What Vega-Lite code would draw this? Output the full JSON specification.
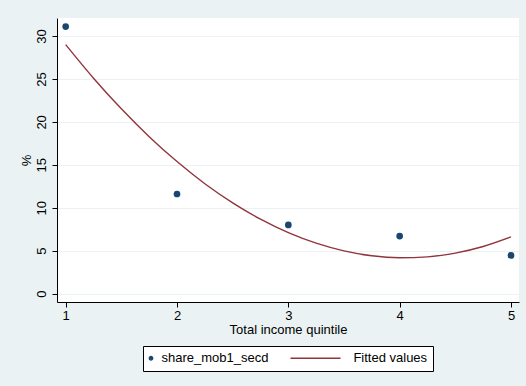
{
  "$schema": "https://vega.github.io/schema/vega-lite/v6.json",
  "autosize": {"type": "none"},
  "width": 462,
  "height": 284,
  "padding": {"left": 57, "top": 18, "right": 7, "bottom": 84},
  "background": "#EAF2F3",
  "config": {
    "font": "Liberation Sans",
    "view": {"fill": "white", "stroke": null},
    "axis": {
      "labelFont": "Liberation Sans",
      "titleFont": "Liberation Sans",
      "labelFontSize": 13,
      "titleFontSize": 13,
      "titleFontWeight": "normal",
      "labelColor": "black",
      "titleColor": "black",
      "domainColor": "black",
      "tickColor": "black",
      "tickSize": 5,
      "domainWidth": 1,
      "tickWidth": 1
    }
  },
  "data": {
    "values": [
      {"quintile": 1, "value": 31.1, "series": "share_mob1_secd"},
      {"quintile": 2, "value": 11.6, "series": "share_mob1_secd"},
      {"quintile": 3, "value": 8.0, "series": "share_mob1_secd"},
      {"quintile": 4, "value": 6.7, "series": "share_mob1_secd"},
      {"quintile": 5, "value": 4.45, "series": "share_mob1_secd"},
      {"quintile": 1.0, "value": 29.0, "series": "Fitted values"},
      {"quintile": 1.25, "value": 25.09, "series": "Fitted values"},
      {"quintile": 1.5, "value": 21.52, "series": "Fitted values"},
      {"quintile": 1.75, "value": 18.28, "series": "Fitted values"},
      {"quintile": 2.0, "value": 15.38, "series": "Fitted values"},
      {"quintile": 2.25, "value": 12.8, "series": "Fitted values"},
      {"quintile": 2.5, "value": 10.57, "series": "Fitted values"},
      {"quintile": 2.75, "value": 8.67, "series": "Fitted values"},
      {"quintile": 3.0, "value": 7.1, "series": "Fitted values"},
      {"quintile": 3.25, "value": 5.87, "series": "Fitted values"},
      {"quintile": 3.5, "value": 4.97, "series": "Fitted values"},
      {"quintile": 3.75, "value": 4.4, "series": "Fitted values"},
      {"quintile": 4.0, "value": 4.18, "series": "Fitted values"},
      {"quintile": 4.25, "value": 4.28, "series": "Fitted values"},
      {"quintile": 4.5, "value": 4.72, "series": "Fitted values"},
      {"quintile": 4.75, "value": 5.49, "series": "Fitted values"},
      {"quintile": 5.0, "value": 6.6, "series": "Fitted values"}
    ]
  },
  "encoding": {
    "x": {
      "field": "quintile",
      "type": "quantitative",
      "scale": {"domain": [0.922, 5.072], "nice": false, "zero": false},
      "axis": {
        "title": "Total income quintile",
        "values": [1, 2, 3, 4, 5],
        "grid": false,
        "labelPadding": 2,
        "titlePadding": 1
      }
    },
    "y": {
      "field": "value",
      "type": "quantitative",
      "scale": {"domain": [-0.98, 32.1], "nice": false, "zero": false},
      "axis": {
        "title": "%",
        "values": [0, 5, 10, 15, 20, 25, 30],
        "labelAngle": -90,
        "labelAlign": "center",
        "labelBaseline": "bottom",
        "labelPadding": 4,
        "titlePadding": 2,
        "grid": true,
        "gridColor": "#EAF2F3",
        "gridWidth": 1
      }
    },
    "color": {
      "field": "series",
      "type": "nominal",
      "scale": {
        "domain": ["share_mob1_secd", "Fitted values"],
        "range": ["#1A476F", "#90353B"]
      },
      "legend": {
        "title": null,
        "orient": "none",
        "direction": "horizontal",
        "legendX": 86,
        "legendY": 328,
        "padding": 5.5,
        "fillColor": "white",
        "strokeColor": "black",
        "cornerRadius": 0,
        "columnPadding": 19,
        "labelFont": "Liberation Sans",
        "labelFontSize": 13,
        "labelColor": "black",
        "labelOffset": {"expr": "datum.value === 'Fitted values' ? 31.4 : 4"},
        "symbolOffset": {"expr": "datum.value === 'Fitted values' ? 18.5 : -4"},
        "symbolStrokeWidth": 1.3,
        "symbolType": {"expr": "datum.value === 'Fitted values' ? 'stroke' : 'circle'"},
        "symbolSize": {"expr": "datum.value === 'Fitted values' ? 2500 : 12"},
        "symbolFillColor": {"expr": "datum.value === 'Fitted values' ? 'transparent' : '#1A476F'"}
      }
    }
  },
  "layer": [
    {
      "transform": [{"filter": "datum.series === 'Fitted values'"}],
      "mark": {"type": "line", "interpolate": "monotone", "strokeWidth": 1.4}
    },
    {
      "transform": [{"filter": "datum.series === 'share_mob1_secd'"}],
      "mark": {"type": "point", "filled": true, "size": 45, "opacity": 1}
    }
  ]
}
